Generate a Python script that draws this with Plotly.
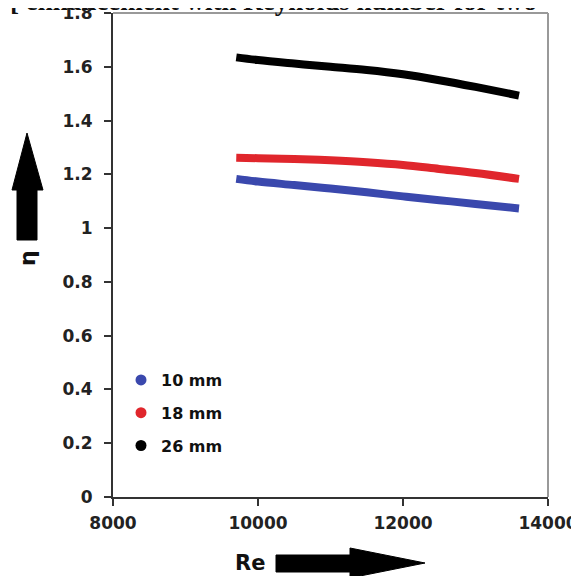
import plotly.graph_objects as go

# ---- data ----
re_values = [9700, 10000, 10500, 11000, 11500, 12000, 12500, 13000, 13600]
eta_10mm = [1.183, 1.173, 1.160, 1.147, 1.133, 1.118, 1.104, 1.090, 1.073]
eta_18mm = [1.262, 1.260, 1.257, 1.252, 1.245, 1.235, 1.220, 1.205, 1.183]
eta_26mm = [1.635, 1.625, 1.612, 1.600, 1.588, 1.572, 1.550, 1.525, 1.493]
series_names = ["10 mm", "18 mm", "26 mm"]
series_colors = ["#3a48ad", "#e0262c", "#000000"]
y_ticks = [0, 0.2, 0.4, 0.6, 0.8, 1, 1.2, 1.4, 1.6, 1.8]
y_tick_labels = ["0", "0.2", "0.4", "0.6", "0.8", "1", "1.2", "1.4", "1.6", "1.8"]
x_ticks = [8000, 10000, 12000, 14000]
x_tick_labels = ["8000", "10000", "12000", "14000"]

# page body has an 8px margin -> figure origin sits at page (8, 8)
OFF = 8
W, H = 579 - OFF, 576 - OFF
L, T = 113 - OFF, 13 - OFF
R = W - (548 - OFF)
B = H - (497 - OFF)
PW, PH = W - L - R, H - T - B


def px(x):  # page pixel x -> paper
    return (x - OFF - L) / PW


def py(y):  # page pixel y -> paper
    return (H - B - (y - OFF)) / PH


fig = go.Figure()
for name, vals, col in zip(series_names, [eta_10mm, eta_18mm, eta_26mm], series_colors):
    fig.add_trace(go.Scatter(x=re_values, y=vals, mode="lines", line=dict(color=col, width=8, shape="spline"),
                             showlegend=False, name=name))
    fig.add_trace(go.Scatter(x=[None], y=[None], mode="markers", marker=dict(color=col, size=11),
                             name=name, legendgroup=name, showlegend=True))

tick_font = dict(family="DejaVu Sans", size=17, color="#222", weight="bold")

fig.update_layout(
    width=W, height=H,
    margin=dict(l=L, r=R, t=T, b=B, autoexpand=False),
    paper_bgcolor="white", plot_bgcolor="white",
    showlegend=True,
    legend=dict(x=px(121), y=py(363), xanchor="left", yanchor="top", bgcolor="rgba(0,0,0,0)",
                font=dict(family="DejaVu Sans", size=16, color="#111", weight="bold"),
                traceorder="grouped", tracegroupgap=9, itemwidth=30),
    xaxis=dict(range=[8000, 14000], tickvals=x_ticks, ticktext=x_tick_labels, showgrid=False, zeroline=False,
               showline=True, linecolor="#333", linewidth=2, ticks="outside", ticklen=7,
               tickwidth=2, tickcolor="#333", automargin=False, ticklabelstandoff=3,
               ticklabeloverflow="allow", tickfont=tick_font),
    yaxis=dict(range=[0, 1.8], tickvals=y_ticks, ticktext=y_tick_labels, showgrid=False, zeroline=False,
               showline=True, linecolor="#333", linewidth=2, ticks="outside", ticklen=7,
               tickwidth=2, tickcolor="#333", automargin=False, ticklabelstandoff=8,
               ticklabeloverflow="allow", tickfont=tick_font),
)

# gray frame (top/right)
fig.add_shape(type="line", xref="paper", yref="paper", x0=0, x1=1, y0=1, y1=1,
              line=dict(color="#999", width=2))
fig.add_shape(type="line", xref="paper", yref="paper", x0=1, x1=1, y0=0, y1=1,
              line=dict(color="#999", width=2))

# vertical arrow (eta)
vpts = [(17, 240), (17, 190), (12, 190), (27, 133), (43, 190), (37, 190), (37, 240)]
path = "M " + " L ".join(f"{px(a)},{py(b)}" for a, b in vpts) + " Z"
fig.add_shape(type="path", xref="paper", yref="paper", path=path, fillcolor="black", line=dict(color="black", width=1))

# horizontal arrow (Re)
hpts = [(276, 555), (350, 555), (350, 548), (425, 563), (350, 578), (350, 572), (276, 572)]
path = "M " + " L ".join(f"{px(a)},{py(b)}" for a, b in hpts) + " Z"
fig.add_shape(type="path", xref="paper", yref="paper", path=path, fillcolor="black", line=dict(color="black", width=1))

fig.add_annotation(text="η", xref="paper", yref="paper", x=px(27), y=py(258), showarrow=False,
                   xanchor="center", yanchor="middle",
                   textangle=-90, font=dict(family="DejaVu Sans", size=22, color="#111", weight="bold"))
fig.add_annotation(text="Re", xref="paper", yref="paper", x=px(250), y=py(563), showarrow=False,
                   xanchor="center", yanchor="middle",
                   font=dict(family="DejaVu Sans", size=21, color="#111", weight="bold"))
fig.add_annotation(text="[ enhancement with Reynolds number for two", xref="paper", yref="paper",
                   x=px(OFF), y=py(OFF + 10), xanchor="left", yanchor="bottom", showarrow=False,
                   font=dict(family="Liberation Serif", size=27, color="#111", weight="bold"))

fig.write_html("out.html")
